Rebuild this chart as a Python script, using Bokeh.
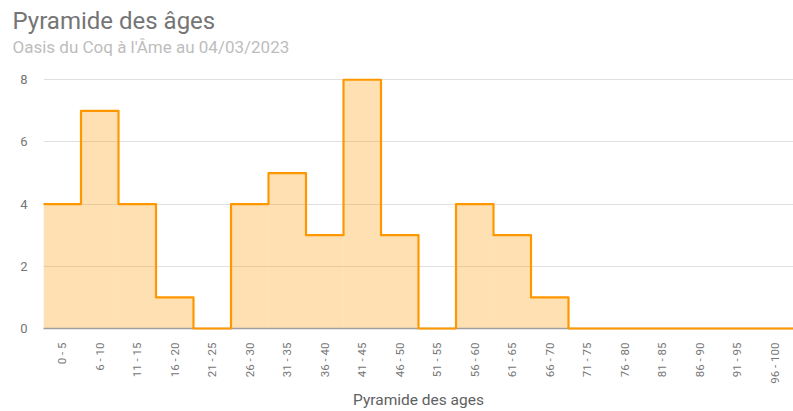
import math
from bokeh.plotting import figure
from bokeh.models import Title, FixedTicker, Range1d
from bokeh.embed import file_html
from bokeh.resources import INLINE

categories = ["0 - 5", "6 - 10", "11 - 15", "16 - 20", "21 - 25", "26 - 30", "31 - 35",
              "36 - 40", "41 - 45", "46 - 50", "51 - 55", "56 - 60", "61 - 65", "66 - 70",
              "71 - 75", "76 - 80", "81 - 85", "86 - 90", "91 - 95", "96 - 100"]
counts = [4, 7, 4, 1, 0, 4, 5, 3, 8, 3, 0, 4, 3, 1, 0, 0, 0, 0, 0, 0]
y_ticks = [0, 2, 4, 6, 8]

title_text = "Pyramide des âges"
subtitle_text = "Oasis du Coq à l'Âme au 04/03/2023"
x_label = "Pyramide des ages"

FONT = "Roboto"
ORANGE = "#FF9800"

n = len(categories)
p = figure(width=793, height=411, output_backend="svg", toolbar_location=None,
           x_range=Range1d(0, n), y_range=Range1d(0, 8.04),
           min_border_left=43, min_border_right=0, min_border_top=78, min_border_bottom=0,
           title=None)
p.outline_line_color = None

sub = Title(text=subtitle_text, text_font=FONT, text_font_size="17px",
            text_color="#bdbdbd", text_font_style="normal", align="left",
            offset=-31, standoff=44)
p.add_layout(sub, "above")
main = Title(text=title_text, text_font=FONT, text_font_size="24px",
             text_color="#757575", text_font_style="normal", align="left",
             offset=-31, standoff=-44)
p.add_layout(main, "above")

lefts = list(range(n))
rights = [i + 1 for i in range(n)]
p.quad(left=lefts, right=rights, top=counts, bottom=[0] * n,
       fill_color=ORANGE, fill_alpha=0.3, line_color=None)

edges = list(range(n + 1))
step_y = counts + [counts[-1]]
r = p.step(x=edges, y=step_y, mode="after", line_color=ORANGE, line_width=2.2,
           line_join="round")
r.level = "overlay"

# axes
p.xaxis.ticker = FixedTicker(ticks=[i + 0.5 for i in range(n)])
p.xaxis.major_label_overrides = {i + 0.5: c for i, c in enumerate(categories)}
p.xaxis.major_label_orientation = math.pi / 2
p.xaxis.major_label_text_font = FONT
p.xaxis.major_label_text_font_size = "11.5px"
p.xaxis.major_label_text_color = "#757575"
p.xaxis.major_label_standoff = 8
p.xaxis.major_tick_line_color = None
p.xaxis.minor_tick_line_color = None
p.xaxis.axis_line_color = "#9e9e9e"
p.xaxis.axis_line_width = 1.5
p.xaxis.axis_label = x_label
p.xaxis.axis_label_text_font = FONT
p.xaxis.axis_label_text_font_size = "15.5px"
p.xaxis.axis_label_text_font_style = "normal"
p.xaxis.axis_label_text_color = "#616161"
p.xaxis.axis_label_standoff = 4

p.yaxis.ticker = FixedTicker(ticks=y_ticks)
p.yaxis.major_label_text_font = FONT
p.yaxis.major_label_text_font_size = "13px"
p.yaxis.major_label_text_color = "#757575"
p.yaxis.major_label_standoff = 10
p.yaxis.major_tick_line_color = None
p.yaxis.minor_tick_line_color = None
p.yaxis.axis_line_color = None

p.xgrid.grid_line_color = None
p.ygrid.grid_line_color = "#e0e0e0"
p.ygrid.grid_line_width = 1

open("out.html", "w").write(file_html(p, INLINE))
